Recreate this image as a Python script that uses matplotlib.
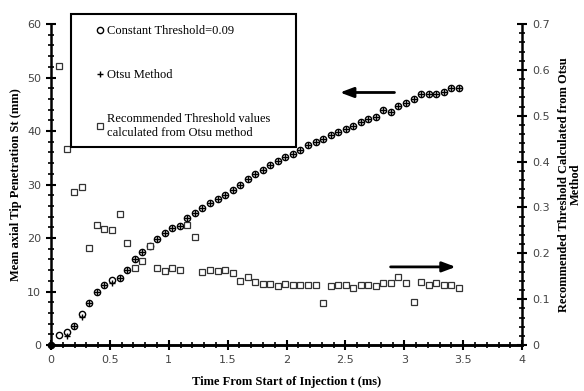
import numpy as np
import matplotlib.pyplot as plt
from matplotlib.ticker import MultipleLocator
from matplotlib.patches import Rectangle

# time of each frame (ms)
t = [0.070, 0.134, 0.198, 0.262, 0.326, 0.390, 0.454, 0.518, 0.582, 0.646,
     0.710, 0.774, 0.838, 0.902, 0.966, 1.030, 1.094, 1.158, 1.222, 1.286,
     1.350, 1.414, 1.478, 1.542, 1.606, 1.670, 1.734, 1.798, 1.862, 1.926,
     1.990, 2.054, 2.118, 2.182, 2.246, 2.310, 2.374, 2.438, 2.502, 2.566,
     2.630, 2.694, 2.758, 2.822, 2.886, 2.950, 3.014, 3.078, 3.142, 3.206,
     3.270, 3.334, 3.398, 3.462]

# penetration (mm), constant threshold 0.09
pen_const = [1.8, 2.5, 3.6, 5.8, 7.8, 10.0, 11.3, 12.1, 12.6, 14.1,
             16.0, 17.4, 18.6, 19.8, 21.0, 21.8, 22.3, 23.7, 24.6, 25.7,
             26.5, 27.2, 28.0, 28.9, 30.0, 31.0, 32.0, 32.8, 33.6, 34.4,
             35.1, 35.7, 36.4, 37.3, 37.9, 38.6, 39.2, 39.8, 40.4, 41.0,
             41.7, 42.2, 42.7, 44.0, 43.6, 44.7, 45.3, 46.0, 46.9, 47.0,
             47.0, 47.2, 48.0, 48.0]

# penetration (mm), Otsu method
pen_otsu = [np.nan, 1.6, 3.6, 5.3, 7.8, 10.0, 11.3, 11.6, 12.6, 14.1,
            16.0, 17.4, 18.6, 19.8, 21.0, 21.8, 22.3, 23.7, 24.6, 25.7,
            26.5, 27.2, 28.0, 28.9, 30.0, 31.0, 32.0, 32.8, 33.6, 34.4,
            35.1, 35.7, 36.4, 37.3, 37.9, 38.6, 39.2, 39.8, 40.4, 41.0,
            41.7, 42.2, 42.7, 44.0, 43.6, 44.7, 45.3, 46.0, 46.9, 47.0,
            47.0, 47.2, 48.0, 48.0]

# recommended threshold from Otsu
thresh = [0.609, 0.427, 0.334, 0.345, 0.211, 0.262, 0.254, 0.250, 0.286, 0.223,
          0.169, 0.184, 0.216, 0.169, 0.161, 0.169, 0.164, 0.262, 0.235, 0.160,
          0.164, 0.161, 0.164, 0.157, 0.140, 0.148, 0.137, 0.133, 0.132, 0.129,
          0.132, 0.130, 0.130, 0.131, 0.131, 0.091, 0.129, 0.131, 0.131, 0.124,
          0.131, 0.131, 0.129, 0.135, 0.135, 0.148, 0.135, 0.094, 0.138, 0.131,
          0.135, 0.131, 0.131, 0.124]

serif = 'Liberation Serif'

fig = plt.figure(figsize=(5.84, 3.91), dpi=100)
ax = fig.add_axes([0.0873, 0.1176, 0.8067, 0.821])
ax2 = ax.twinx()

# origin point
ax.plot([0], [0], 'o', color='black', ms=4.5, clip_on=False, zorder=5)

h1, = ax.plot(t, pen_const, 'o', mfc='white', mec='black', mew=1.0, ms=4.5,
              label='Constant Threshold=0.09', zorder=3)
h2, = ax.plot(t, pen_otsu, '+', color='black', mew=1.0, ms=4.5,
              label='Otsu Method', zorder=4)
h3, = ax2.plot(t, thresh, 's', mfc='white', mec='#333333', mew=0.9, ms=4,
               label='Recommended Threshold values\ncalculated from Otsu method')

ax.set_xlim(0, 4)
ax.set_ylim(0, 60)
ax2.set_ylim(0, 0.7)

ax.xaxis.set_major_locator(MultipleLocator(0.5))
ax.xaxis.set_minor_locator(MultipleLocator(0.1))
ax.yaxis.set_major_locator(MultipleLocator(10))
ax.yaxis.set_minor_locator(MultipleLocator(2))
ax2.yaxis.set_major_locator(MultipleLocator(0.1))
ax2.yaxis.set_minor_locator(MultipleLocator(0.02))
ax.set_xticks([0, 0.5, 1, 1.5, 2, 2.5, 3, 3.5, 4])
ax.set_xticklabels(['0', '0.5', '1', '1.5', '2', '2.5', '3', '3.5', '4'])
ax2.set_yticks([0, 0.1, 0.2, 0.3, 0.4, 0.5, 0.6, 0.7])
ax2.set_yticklabels(['0', '0.1', '0.2', '0.3', '0.4', '0.5', '0.6', '0.7'])

for a in (ax, ax2):
    a.spines['top'].set_visible(False)
    for s in a.spines.values():
        s.set_linewidth(1.8)
    a.tick_params(which='major', direction='inout', length=7, width=1.5,
                  labelsize=8, labelcolor='#444444')
    a.tick_params(which='minor', direction='inout', length=4, width=1.2)
ax2.spines['left'].set_visible(False)
ax.spines['right'].set_visible(False)

ax.set_xlabel('Time From Start of Injection t (ms)', family=serif,
              fontweight='bold', fontsize=9, labelpad=8)
ax.set_ylabel('Mean axial Tip Penetration St (mm)', family=serif,
              fontweight='bold', fontsize=9, labelpad=4)
ax2.set_ylabel('Recommended Threshold Calculated from Otsu\nMethod',
               family=serif, fontweight='bold', fontsize=9, labelpad=6,
               linespacing=1.0)

# direction arrows
ax.annotate('', xy=(2.43, 47.2), xytext=(2.94, 47.2),
            arrowprops=dict(arrowstyle='-|>,head_length=0.8,head_width=0.3',
                            color='black', lw=2))
ax.annotate('', xy=(3.46, 14.6), xytext=(2.86, 14.6),
            arrowprops=dict(arrowstyle='-|>,head_length=0.8,head_width=0.3',
                            color='black', lw=2))

# legend box
fig.patches.append(Rectangle((71 / 584, 1 - 147 / 391), 225 / 584, 133 / 391,
                             transform=fig.transFigure, fill=False,
                             edgecolor='black', lw=1.5, zorder=10))
leg = fig.legend(handles=[h1, h2, h3], loc='upper left',
                 bbox_to_anchor=(97 / 584, 1 - 25 / 391),
                 prop={'family': serif, 'size': 9}, frameon=False,
                 handlelength=0.5, handletextpad=0.3, labelspacing=2.55,
                 borderpad=0, borderaxespad=0)
leg._legend_box.align = 'left'
for txt in leg.get_texts():
    txt.set_multialignment('left')

fig.savefig('out.png', dpi=100)
